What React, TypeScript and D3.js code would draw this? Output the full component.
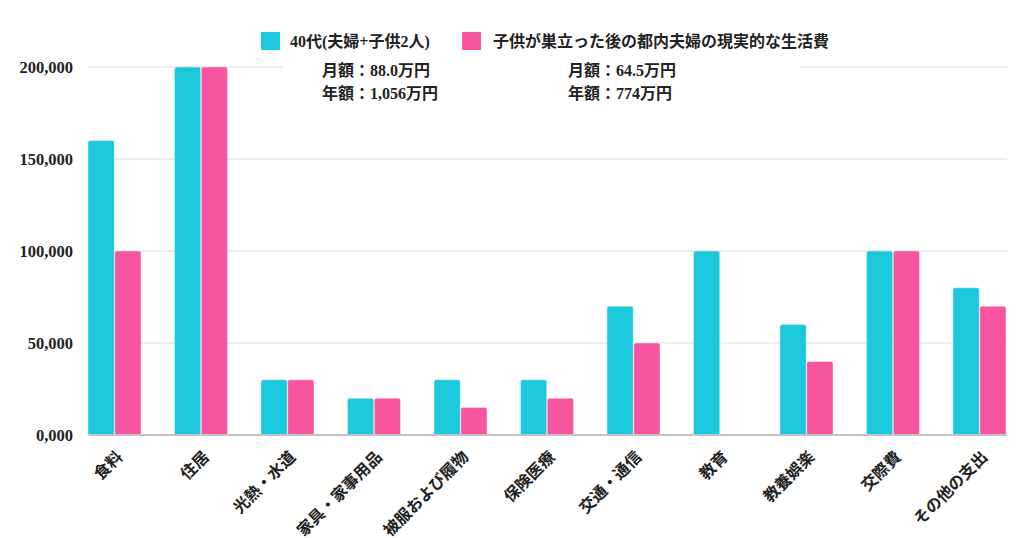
import React from "react";
import * as d3 from "d3";

const categories = ["食料", "住居", "光熱・水道", "家具・家事用品", "被服および履物", "保険医療", "交通・通信", "教育", "教養娯楽", "交際費", "その他の支出"];
const series40s = [160000, 200000, 30000, 20000, 30000, 30000, 70000, 100000, 60000, 100000, 80000];
const seriesAfter = [100000, 200000, 30000, 20000, 15000, 20000, 50000, 0, 40000, 100000, 70000];
const seriesNames = ["40代(夫婦+子供2人)", "子供が巣立った後の都内夫婦の現実的な生活費"];
const yTicks = [0, 50000, 100000, 150000, 200000];
const notes40s = ["月額：88.0万円", "年額：1,056万円"];
const notesAfter = ["月額：64.5万円", "年額：774万円"];

const COLORS = ["#1cc8db", "#f7559e"];
const FONT = '"Liberation Serif", "DejaVu Serif", "Noto Sans CJK JP", serif';

function topRounded(x: number, y: number, w: number, h: number, r: number) {
  if (h <= 0) return "";
  const rr = Math.min(r, h, w / 2);
  return `M${x},${y + h}V${y + rr}Q${x},${y} ${x + rr},${y}H${x + w - rr}Q${x + w},${y} ${x + w},${y + rr}V${y + h}Z`;
}

export default function App() {
  const W = 1024, H = 538;
  const left = 88, right = 1007, top = 67, bottom = 435;
  const x0 = d3.scaleBand<string>().domain(categories).range([left, 1006]).paddingInner(0.387).paddingOuter(0);
  const x1 = d3.scaleBand<string>().domain(seriesNames).range([0, x0.bandwidth()]).paddingInner(0.02);
  const y = d3.scaleLinear().domain([0, 200000]).range([bottom, top]);
  const fmt = (v: number) => (v === 0 ? "0,000" : d3.format(",")(v));
  const data = [series40s, seriesAfter];

  return (
    <div style={{ position: "fixed", left: 0, top: 0, width: W, height: H, background: "#fff" }}>
      <svg width={W} height={H} style={{ display: "block", fontFamily: FONT }}>
        {yTicks.map((t) => (
          <g key={t}>
            {t !== 0 && <line x1={left} x2={right} y1={y(t)} y2={y(t)} stroke="#dcdcdc" strokeWidth={1} />}
            <text x={73} y={y(t)} dy="0.35em" textAnchor="end" fontSize={16.5} fontWeight="bold" fill="#222">
              {fmt(t)}
            </text>
          </g>
        ))}
        {categories.map((c, i) => (
          <g key={c}>
            {seriesNames.map((s, j) => {
              const v = data[j][i];
              const bx = (x0(c) as number) + (x1(s) as number);
              const by = y(v);
              return (
                <path key={s} d={topRounded(bx, by, x1.bandwidth(), bottom - by, 2)} fill={COLORS[j]} stroke="rgba(255,255,255,0.5)" strokeWidth={0.8} />
              );
            })}
          </g>
        ))}
        <line x1={left} x2={right} y1={bottom} y2={bottom} stroke="#c4c4c4" strokeWidth={2} />
        {categories.map((c) => {
          const cx = (x0(c) as number) + x0.bandwidth() / 2 + 9;
          return (
            <text key={c} transform={`translate(${cx},${458}) rotate(-45)`} textAnchor="end" fontSize={16} fontWeight="bold" fill="#222">
              {c}
            </text>
          );
        })}
        {/* legend box background hiding the top gridline */}
        <rect x={282} y={58} width={518} height={48} fill="#fff" />
        <rect x={261} y={32} width={19} height={18} rx={1} fill={COLORS[0]} />
        <text x={290} y={41} dy="0.35em" fontSize={16} fontWeight="bold" fill="#222">{seriesNames[0]}</text>
        <rect x={462} y={32} width={19} height={18} rx={1} fill={COLORS[1]} />
        <text x={493} y={41} dy="0.35em" fontSize={16} fontWeight="bold" fill="#222">{seriesNames[1]}</text>
        {notes40s.map((n, k) => (
          <text key={n} x={322} y={70 + k * 23} dy="0.35em" fontSize={16} fontWeight="bold" fill="#222">{n}</text>
        ))}
        {notesAfter.map((n, k) => (
          <text key={n} x={568} y={70 + k * 23} dy="0.35em" fontSize={16} fontWeight="bold" fill="#222">{n}</text>
        ))}
      </svg>
    </div>
  );
}
